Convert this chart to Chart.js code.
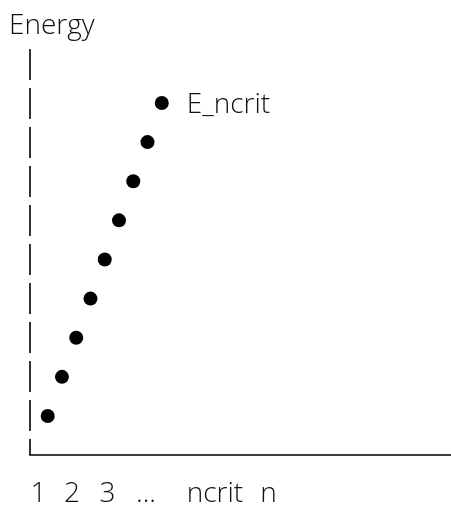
<!DOCTYPE html>
<html>
<head>
<meta charset="utf-8">
<script src="https://cdn.jsdelivr.net/npm/chart.js@4"></script>
<style>
  html, body { margin: 0; padding: 0; background: #fff; }
  #wrap { width: 451px; height: 506px; position: relative; }
</style>
</head>
<body>
<div id="wrap"><canvas id="c" width="451" height="506"></canvas></div>
<script>
// ---- data ----
const levels = [1, 2, 3, 4, 5, 6, 7, 8, 9];
const energies = [1, 2, 3, 4, 5, 6, 7, 8, 9];
const tickLabels = ['1', '2', '3', '...', 'ncrit', 'n'];
const yTitle = 'Energy';
const pointLabel = 'E_ncrit';

const FONT = '300 28px "Open Sans", "Lato", sans-serif';

const textArt = {
  id: 'textArt',
  afterDraw(chart) {
    const ctx = chart.ctx;
    const a = chart.chartArea;
    ctx.save();
    // vertical axis made of "|" segments
    ctx.strokeStyle = '#000';
    ctx.lineWidth = 1.6;
    ctx.setLineDash([31, 8]);
    ctx.beginPath();
    ctx.moveTo(a.left, a.top);
    ctx.lineTo(a.left, a.bottom);
    ctx.stroke();
    // horizontal baseline
    ctx.setLineDash([]);
    ctx.beginPath();
    ctx.moveTo(a.left - 0.8, a.bottom);
    ctx.lineTo(chart.width, a.bottom);
    ctx.stroke();

    ctx.fillStyle = '#111';
    ctx.font = FONT;
    ctx.textBaseline = 'alphabetic';
    // title
    ctx.textAlign = 'left';
    ctx.fillText(yTitle, 9, 34);
    // label next to last point
    const meta = chart.getDatasetMeta(0);
    const last = meta.data[meta.data.length - 1];
    ctx.fillText(pointLabel, last.x + 25, last.y + 10);
    // bottom labels
    const centers = [38.5, 72, 107.5, 146, 215, 268.5];
    ctx.textAlign = 'center';
    tickLabels.forEach((t, i) => ctx.fillText(t, centers[i], a.bottom + 47));
    ctx.restore();
  }
};

new Chart(document.getElementById('c'), {
  type: 'scatter',
  data: {
    datasets: [{
      data: levels.map((n, i) => ({ x: n, y: energies[i] })),
      pointRadius: 7,
      pointHoverRadius: 7,
      backgroundColor: '#000',
      borderColor: '#000',
      borderWidth: 0,
      showLine: false
    }]
  },
  options: {
    responsive: false,
    animation: false,
    events: [],
    layout: { padding: { left: 30, right: 0, top: 49, bottom: 51 } },
    plugins: { legend: { display: false }, tooltip: { enabled: false } },
    scales: {
      x: { type: 'linear', display: false, min: -0.241, max: 28.79 },
      y: { type: 'linear', display: false, min: 0.003, max: 10.38 }
    }
  },
  plugins: [textArt]
});
</script>
</body>
</html>
